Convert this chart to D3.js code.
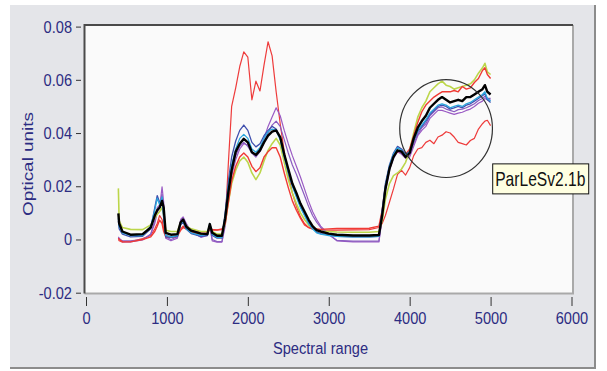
<!doctype html>
<html>
<head>
  <meta charset="utf-8" />
  <script src="https://d3js.org/d3.v7.min.js"></script>
  <style>
    body { margin: 0; background: #fff; }
    svg text { font-family: "Liberation Sans", Arial, sans-serif; }
  </style>
</head>
<body>
<div id="chart"></div>
<script type="text/javascript">

// spectral positions shared by all samples
var wavenumbers = [400, 410, 450, 550, 700, 800, 850, 880, 910, 940,
  960, 985, 1050, 1130, 1170, 1200, 1240, 1300, 1420, 1500,
  1530, 1560, 1620, 1680, 1720, 1760, 1800, 1850, 1900, 1950,
  2000, 2050, 2100, 2150, 2200, 2250, 2300, 2350, 2400, 2450,
  2500, 2550, 2600, 2650, 2700, 2750, 2800, 2850, 2900, 3000,
  3100, 3300, 3500, 3620, 3660, 3700, 3750, 3800, 3850, 3900,
  3950, 4000, 4050, 4100, 4150, 4200, 4250, 4300, 4350, 4400,
  4450, 4500, 4550, 4600, 4650, 4700, 4750, 4800, 4850, 4900,
  4930, 4960, 5000];

var redA = [0.0, -0.0005, -0.001, -0.0008, 0.0003, 0.0015, 0.004, 0.006, 0.009, 0.0075,
  0.004, 0.0015, 0.001, 0.0015, 0.004, 0.005, 0.0045, 0.0035, 0.0028, 0.003,
  0.0042, 0.0038, 0.0036, 0.004, 0.006, 0.029, 0.05, 0.057, 0.065, 0.0705,
  0.0685, 0.0525, 0.0595, 0.0558, 0.0655, 0.0743, 0.069, 0.0555, 0.0435, 0.033,
  0.0245, 0.0175, 0.0125, 0.0085, 0.006, 0.0045, 0.004, 0.0038, 0.0036, 0.0035,
  0.0035, 0.0036, 0.0037, 0.0045, 0.006, 0.009, 0.014, 0.019, 0.0245, 0.026,
  0.0242, 0.027, 0.0315, 0.034, 0.0345, 0.0365, 0.0373, 0.036, 0.0385, 0.0392,
  0.0405, 0.04, 0.0385, 0.0365, 0.036, 0.0355, 0.0372, 0.038, 0.0415, 0.0435,
  0.0445, 0.0448, 0.0428];

var redB = [0.0005, 0.0, -0.0008, -0.0009, 0.0, 0.001, 0.003, 0.005, 0.0073, 0.006,
  0.003, 0.001, 0.0008, 0.0012, 0.0035, 0.0045, 0.004, 0.0028, 0.002, 0.0025,
  0.0037, 0.0035, 0.0035, 0.0037, 0.006, 0.014, 0.022, 0.0275, 0.031, 0.0325,
  0.031, 0.0275, 0.0255, 0.027, 0.031, 0.033, 0.0345, 0.0345, 0.031, 0.025,
  0.0195, 0.0145, 0.011, 0.008, 0.0055, 0.0045, 0.004, 0.004, 0.0038, 0.004,
  0.0041, 0.0041, 0.0042, 0.005, 0.011, 0.02, 0.027, 0.0315, 0.033, 0.033,
  0.032, 0.034, 0.039, 0.044, 0.048, 0.0505, 0.052, 0.0535, 0.0545, 0.0555,
  0.0555, 0.0555, 0.056, 0.0555, 0.0575, 0.0565, 0.057, 0.059, 0.0605, 0.0635,
  0.0645, 0.062, 0.0605];

var purple1 = [0.001, 0.0005, -0.0008, -0.0009, -0.0002, 0.002, 0.006, 0.01, 0.012, 0.0198,
  0.014, 0.0005, -0.0005, 0.0005, 0.0075, 0.0085, 0.006, 0.003, 0.0008, 0.0015,
  0.005, -0.0005, -0.001, -0.001, 0.005, 0.015, 0.024, 0.03, 0.034, 0.036,
  0.0355, 0.033, 0.0315, 0.034, 0.038, 0.0425, 0.046, 0.0495, 0.0465, 0.041,
  0.036, 0.0315, 0.0275, 0.0235, 0.019, 0.0145, 0.0105, 0.0075, 0.005, 0.002,
  -0.0005, -0.0009, -0.0009, -0.0009, 0.008, 0.018, 0.026, 0.0305, 0.033, 0.032,
  0.0305, 0.031, 0.035, 0.039, 0.041, 0.0425, 0.0455, 0.047, 0.0485, 0.0485,
  0.048, 0.0475, 0.047, 0.0475, 0.0478, 0.0485, 0.049, 0.05, 0.0512, 0.052,
  0.053, 0.0525, 0.0525];

var purple2 = [0.0005, 0.0002, -0.0005, -0.0005, 0.0, 0.002, 0.007, 0.012, 0.013, 0.017,
  0.01, 0.001, 0.0, 0.001, 0.007, 0.008, 0.0055, 0.0028, 0.001, 0.0018,
  0.0052, 0.0, -0.0008, -0.0008, 0.006, 0.017, 0.026, 0.0315, 0.035, 0.0365,
  0.035, 0.0325, 0.031, 0.033, 0.0365, 0.04, 0.043, 0.0445, 0.0425, 0.0375,
  0.0325, 0.028, 0.0245, 0.0205, 0.0165, 0.0125, 0.009, 0.0065, 0.0045, 0.0018,
  -0.0003, -0.0006, -0.0006, -0.0006, 0.0085, 0.0185, 0.0265, 0.031, 0.0335, 0.0325,
  0.031, 0.0315, 0.036, 0.0395, 0.042, 0.0435, 0.0465, 0.048, 0.0495, 0.0498,
  0.049, 0.0485, 0.048, 0.0488, 0.049, 0.0495, 0.0502, 0.051, 0.0522, 0.053,
  0.0538, 0.053, 0.053];

var green = [0.0192, 0.007, 0.0045, 0.0038, 0.0037, 0.0055, 0.008, 0.0095, 0.0105, 0.012,
  0.009, 0.0035, 0.003, 0.003, 0.0065, 0.0072, 0.005, 0.004, 0.003, 0.003,
  0.005, 0.003, 0.002, 0.002, 0.006, 0.014, 0.021, 0.026, 0.0295, 0.031,
  0.029, 0.025, 0.0225, 0.025, 0.0295, 0.0335, 0.036, 0.038, 0.0355, 0.029,
  0.0225, 0.0175, 0.0135, 0.01, 0.0075, 0.0055, 0.004, 0.0035, 0.003, 0.003,
  0.0028, 0.0027, 0.0027, 0.003, 0.007, 0.015, 0.021, 0.024, 0.025, 0.0265,
  0.029, 0.0335, 0.04, 0.046, 0.0495, 0.052, 0.0555, 0.057, 0.0585, 0.0595,
  0.058, 0.0575, 0.0565, 0.057, 0.0575, 0.058, 0.0585, 0.06, 0.0625, 0.0645,
  0.0662, 0.063, 0.062];

var blue = [0.007, 0.004, 0.002, 0.001, 0.0012, 0.004, 0.012, 0.0165, 0.014, 0.015,
  0.008, 0.001, 0.0008, 0.0012, 0.0055, 0.0065, 0.0038, 0.0022, 0.0012, 0.0015,
  0.0055, 0.0015, 0.0005, 0.0005, 0.01, 0.022, 0.031, 0.037, 0.041, 0.043,
  0.041, 0.0365, 0.0348, 0.036, 0.039, 0.041, 0.0425, 0.0415, 0.038, 0.0315,
  0.0255, 0.0205, 0.0165, 0.0125, 0.0095, 0.0065, 0.0042, 0.0028, 0.0022, 0.0018,
  0.0012, 0.001, 0.001, 0.0012, 0.011, 0.021, 0.028, 0.0325, 0.035, 0.034,
  0.032, 0.033, 0.037, 0.0405, 0.0425, 0.0445, 0.047, 0.0485, 0.05, 0.0505,
  0.05, 0.049, 0.0495, 0.05, 0.0495, 0.0505, 0.051, 0.052, 0.053, 0.054,
  0.0548, 0.0525, 0.0515];

var cyan = [0.008, 0.005, 0.0025, 0.0015, 0.0015, 0.005, 0.011, 0.0155, 0.013, 0.016,
  0.009, 0.0015, 0.001, 0.0015, 0.006, 0.007, 0.004, 0.0025, 0.0015, 0.002,
  0.006, 0.002, 0.0008, 0.0008, 0.009, 0.02, 0.028, 0.034, 0.038, 0.0395,
  0.038, 0.034, 0.0328, 0.0345, 0.038, 0.0405, 0.0415, 0.041, 0.0375, 0.031,
  0.025, 0.02, 0.016, 0.012, 0.009, 0.006, 0.004, 0.0025, 0.002, 0.0015,
  0.0012, 0.001, 0.001, 0.0012, 0.01, 0.02, 0.0275, 0.032, 0.0345, 0.0335,
  0.0315, 0.033, 0.0375, 0.041, 0.043, 0.045, 0.0475, 0.049, 0.0505, 0.051,
  0.0505, 0.0495, 0.05, 0.0505, 0.05, 0.051, 0.0515, 0.0525, 0.0535, 0.0545,
  0.0555, 0.053, 0.052];

var mean = [0.0098, 0.006, 0.003, 0.0018, 0.002, 0.0045, 0.009, 0.011, 0.012, 0.0145,
  0.012, 0.0025, 0.0018, 0.002, 0.0065, 0.0075, 0.0048, 0.0033, 0.0022, 0.002,
  0.0058, 0.0025, 0.0014, 0.0014, 0.008, 0.018, 0.026, 0.033, 0.036, 0.0378,
  0.0365, 0.0328, 0.0318, 0.0335, 0.0365, 0.039, 0.0405, 0.041, 0.0385, 0.032,
  0.0265, 0.021, 0.0175, 0.0135, 0.0105, 0.0075, 0.005, 0.0035, 0.003, 0.0022,
  0.0018, 0.0015, 0.0015, 0.0017, 0.009, 0.019, 0.0265, 0.031, 0.0335, 0.033,
  0.031, 0.0325, 0.038, 0.042, 0.0445, 0.0465, 0.0495, 0.051, 0.0525, 0.0535,
  0.0525, 0.0515, 0.052, 0.0525, 0.052, 0.0535, 0.0535, 0.0545, 0.0555, 0.0565,
  0.058, 0.0555, 0.0545];

var xTicks = [0, 1000, 2000, 3000, 4000, 5000, 6000];
var xTickLabels = ["0", "1000", "2000", "3000", "4000", "5000", "6000"];
var yTicks = [-0.02, 0, 0.02, 0.04, 0.06, 0.08];
var yTickLabels = ["-0.02", "0", "0.02", "0.04", "0.06", "0.08"];

var spectra = [
  {values: redA, color: "#ee3b3b", width: 1.2},
  {values: purple1, color: "#9a5ac4", width: 1.2},
  {values: purple2, color: "#8a5cc0", width: 1.2},
  {values: green, color: "#bcd64a", width: 1.6},
  {values: redB, color: "#f03a34", width: 1.4},
  {values: blue, color: "#3f4fae", width: 1.3},
  {values: cyan, color: "#2aa6dc", width: 1.3},
  {values: mean, color: "#000000", width: 2.4}
];

var svg = d3.select("#chart").append("svg").attr("width", 607).attr("height", 371);

// grey panel behind the graph
svg.append("rect").attr("x", 10).attr("y", 5).attr("width", 586).attr("height", 364).attr("fill", "#e4e5e9");
svg.append("path").attr("d", "M595,5V368H10").attr("fill", "none").attr("stroke", "#8c8c8c").attr("stroke-width", 2);

var x = d3.scaleLinear().domain([0, 6000]).range([86, 571.5]);
var y = d3.scaleLinear().domain([-0.02, 0.08]).range([292.7, 26.6]);

// plot frame, sunken look
svg.append("rect").attr("x", 84.5).attr("y", 25).attr("width", 488.5).attr("height", 268.5).attr("fill", "#fafafa");
svg.append("path").attr("d", "M573,25V293.5H84.5").attr("fill", "none").attr("stroke", "#a9a9a9").attr("stroke-width", 2);
svg.append("path").attr("d", "M84.5,293.5V25H573").attr("fill", "none").attr("stroke", "#4a4a4a").attr("stroke-width", 2);

var navy = "#2c2c82";
var sx = 0.86;

var yAxis = svg.append("g").attr("transform", "translate(81,0)").attr("color", "#333")
  .call(d3.axisLeft(y).tickValues(yTicks).tickFormat((d, i) => yTickLabels[i]).tickSize(5).tickPadding(4));
yAxis.select(".domain").remove();
yAxis.selectAll("text").attr("fill", navy).style("font-size", "17px")
  .attr("x", -9 / sx).attr("transform", "scale(" + sx + ",1)");

var xAxis = svg.append("g").attr("transform", "translate(0,297)").attr("color", "#333")
  .call(d3.axisBottom(x).tickValues(xTicks).tickFormat((d, i) => xTickLabels[i]).tickSize(9).tickPadding(6));
xAxis.select(".domain").remove();
xAxis.selectAll("text").attr("fill", navy).style("font-size", "17px").attr("transform", "scale(" + sx + ",1)");

// axis titles
svg.append("text").attr("transform", "translate(320.5,354) scale(" + sx + ",1)")
  .attr("text-anchor", "middle").attr("fill", navy).style("font-size", "17px").text("Spectral range");
svg.append("text").attr("transform", "translate(33,164) rotate(-90) scale(1.05," + sx + ")")
  .attr("text-anchor", "middle").attr("fill", navy).style("font-size", "18px").text("Optical units");

// spectra
var line = d3.line().x((d, i) => x(wavenumbers[i])).y(d => y(d));
svg.append("g").selectAll("path").data(spectra).enter().append("path")
  .attr("d", d => line(d.values))
  .attr("fill", "none")
  .attr("stroke", d => d.color)
  .attr("stroke-width", d => d.width)
  .attr("stroke-linejoin", "round");

// annotation circle and label
var ring = {x: 4450, y: 0.0417, rx: 573, ry: 0.0184};
svg.append("ellipse")
  .attr("cx", x(ring.x)).attr("cy", y(ring.y))
  .attr("rx", x(ring.rx) - x(0)).attr("ry", y(0) - y(ring.ry))
  .attr("fill", "none").attr("stroke", "#333").attr("stroke-width", 1.2);

var tag = svg.append("g").attr("transform", "translate(" + x(5020) + "," + y(0.0286) + ")");
tag.append("rect").attr("x", 0.5).attr("y", 0.5).attr("width", 96).attr("height", 30)
  .attr("fill", "#ffffe1").attr("stroke", "#111").attr("stroke-width", 1);
tag.append("text").attr("transform", "translate(3,23) scale(0.78,1)")
  .attr("fill", "#111").style("font-size", "20px").text("ParLeSv2.1b");

</script>
</body>
</html>
